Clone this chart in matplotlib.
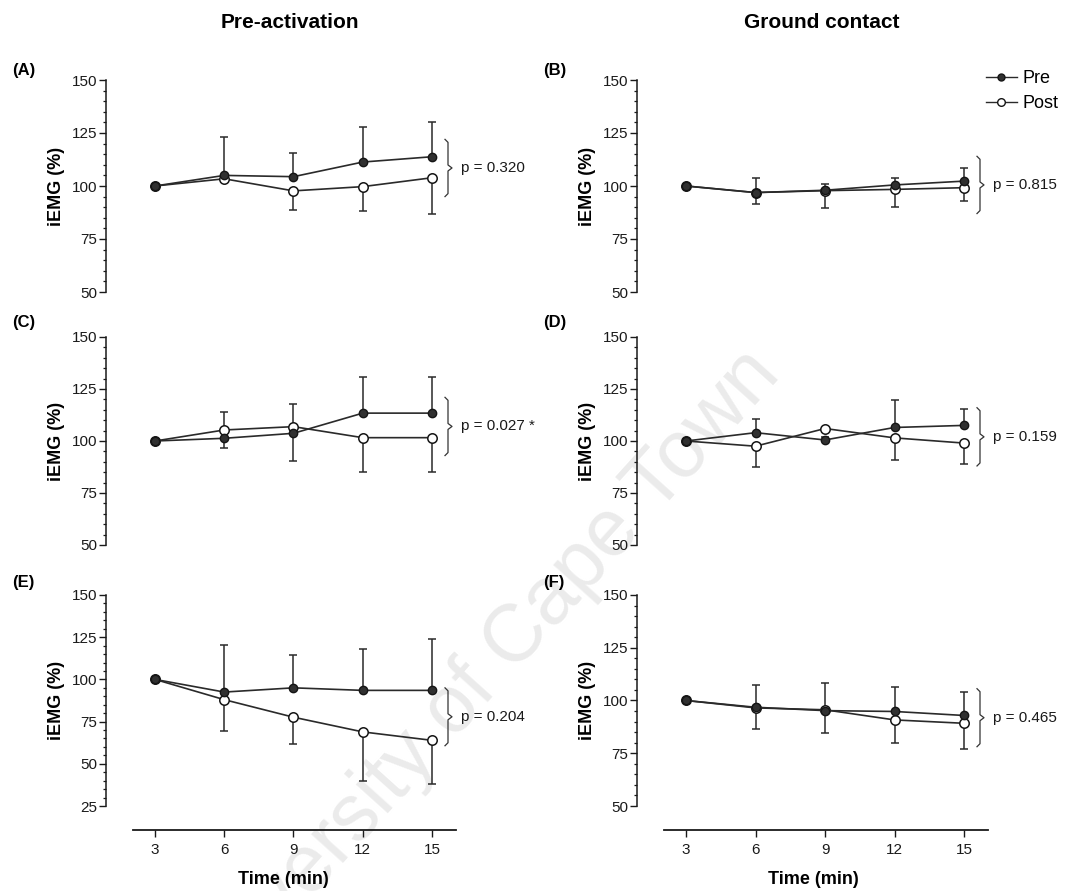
import matplotlib
matplotlib.use('Agg')
import matplotlib.pyplot as plt
from matplotlib.ticker import MultipleLocator
from matplotlib.lines import Line2D

plt.rcParams['font.family'] = ['Liberation Sans', 'DejaVu Sans']

# ---------------- data ----------------
time_min = [3, 6, 9, 12, 15]

a_pre = [100, 105.0, 104.4, 111.3, 113.8]
a_pre_sd = [0, 18.0, 11.0, 16.4, 16.5]
a_post = [100, 103.4, 97.7, 99.7, 103.9]
a_post_sd = [0, 1.5, 9.0, 11.4, 17.0]

b_pre = [100, 96.9, 98.0, 100.5, 102.3]
b_pre_sd = [0, 7.0, 2.8, 3.5, 6.0]
b_post = [100, 96.9, 97.8, 98.4, 99.2]
b_post_sd = [0, 5.3, 8.4, 8.1, 6.5]

c_pre = [100, 101.3, 103.7, 113.4, 113.4]
c_pre_sd = [0, 12.6, 14.0, 17.6, 17.6]
c_post = [100, 105.3, 106.9, 101.6, 101.6]
c_post_sd = [0, 8.5, 16.6, 16.7, 16.7]

d_pre = [100, 104.0, 100.5, 106.5, 107.5]
d_pre_sd = [0, 6.5, 1.5, 13.0, 8.0]
d_post = [100, 97.5, 106.0, 101.5, 99.0]
d_post_sd = [0, 10.0, 1.5, 10.5, 10.0]

e_pre = [100, 92.5, 95.0, 93.5, 93.5]
e_pre_sd = [0, 28.0, 19.3, 24.4, 30.7]
e_post = [100, 88.0, 77.6, 68.9, 63.9]
e_post_sd = [0, 18.4, 15.9, 29.0, 26.0]

f_pre = [100, 96.8, 95.2, 94.8, 92.9]
f_pre_sd = [0, 10.7, 13.1, 11.5, 10.9]
f_post = [100, 96.5, 95.6, 90.8, 89.2]
f_post_sd = [0, 10.0, 11.0, 11.0, 12.2]

panel_letters = ['(A)', '(B)', '(C)', '(D)', '(E)', '(F)']
p_texts = ['p = 0.320', 'p = 0.815', 'p = 0.027 *', 'p = 0.159', 'p = 0.204', 'p = 0.465']
bracket_top = [122, 114, 121, 116, 95, 105.6]
bracket_bottom = [95, 87, 93, 88, 60.7, 78.1]
y_lows = [50, 50, 50, 50, 25, 50]
col_titles = ['Pre-activation', 'Ground contact']
series_names = ['Pre', 'Post']
y_label = 'iEMG (%)'
x_label = 'Time (min)'
watermark = 'University of Cape Town'

pre_list = [a_pre, b_pre, c_pre, d_pre, e_pre, f_pre]
pre_sd_list = [a_pre_sd, b_pre_sd, c_pre_sd, d_pre_sd, e_pre_sd, f_pre_sd]
post_list = [a_post, b_post, c_post, d_post, e_post, f_post]
post_sd_list = [a_post_sd, b_post_sd, c_post_sd, d_post_sd, e_post_sd, f_post_sd]

# ---------------- layout ----------------
W, H = 1069, 891
fig = plt.figure(figsize=(W / 100, H / 100), dpi=100)

def fx(px):
    return px / W

def fy(py):
    return 1 - py / H

cols = [dict(left=106, right=460, x3=155, x15=432),
        dict(left=637, right=990, x3=686, x15=964)]
rows = [dict(top=80, bottom=292), dict(top=337, bottom=545), dict(top=595, bottom=806)]
label_y = [71, 323, 583]

LINE = '#2a2a2a'
for i in range(6):
    r, c = divmod(i, 2)
    col, row = cols[c], rows[r]
    ax = fig.add_axes([fx(col['left']), fy(row['bottom']),
                       (col['right'] - col['left']) / W, (row['bottom'] - row['top']) / H])
    ax.patch.set_alpha(0)
    ppu = (col['x15'] - col['x3']) / 12.0
    xl = 3 - (col['x3'] - col['left']) / ppu
    xr = 15 + (col['right'] - col['x15']) / ppu
    ax.set_xlim(xl, xr)
    ylo = y_lows[i]
    ax.set_ylim(ylo, 150)

    ax.errorbar(time_min, pre_list[i], yerr=[[0] * 5, pre_sd_list[i]], fmt='none',
                ecolor=LINE, elinewidth=1.1, capsize=3.2, capthick=1.1, zorder=2)
    ax.errorbar(time_min, post_list[i], yerr=[post_sd_list[i], [0] * 5], fmt='none',
                ecolor=LINE, elinewidth=1.1, capsize=3.2, capthick=1.1, zorder=2)
    ax.plot(time_min, pre_list[i], '-', color=LINE, lw=1.2, marker='o', ms=6,
            mfc='#303030', mec='#151515', mew=1.0, zorder=4, clip_on=False)
    ax.plot(time_min, post_list[i], '-', color=LINE, lw=1.2, marker='o', ms=6.8,
            mfc='white', mec='#151515', mew=1.1, zorder=3, clip_on=False)

    for s in ['top', 'right']:
        ax.spines[s].set_visible(False)
    ax.spines['left'].set_color('#1a1a1a')
    ax.spines['left'].set_linewidth(1.1)
    ax.spines['left'].set_bounds(ylo, 150)
    ax.yaxis.set_major_locator(MultipleLocator(25))
    ax.yaxis.set_minor_locator(MultipleLocator(5))
    ax.tick_params(axis='y', which='major', direction='out', length=5, width=1.0,
                   labelsize=11, pad=1.5, colors='#1a1a1a')
    ax.tick_params(axis='y', which='minor', direction='out', length=2.5, width=0.9,
                   colors='#1a1a1a')
    axw = col['right'] - col['left']
    ax.set_ylabel(y_label, fontsize=13, fontweight='bold')
    ax.yaxis.set_label_coords(-41.0 / axw, 0.5)

    if r < 2:
        ax.spines['bottom'].set_visible(False)
        ax.set_xticks([])
    else:
        ax.spines['bottom'].set_position(('outward', 17.3))
        ax.spines['bottom'].set_bounds(2.05, 16.05)
        ax.spines['bottom'].set_color('#1a1a1a')
        ax.spines['bottom'].set_linewidth(1.3)
        ax.set_xticks(time_min)
        ax.set_xticklabels([str(t) for t in time_min])
        ax.tick_params(axis='x', direction='out', length=5, width=1.0, labelsize=11,
                       pad=4.5, colors='#1a1a1a')
        ax.set_xlabel(x_label, fontsize=13, fontweight='bold', labelpad=10)

    # brace
    bx = 15 + 16.0 / ppu
    hook = 3.0 / ppu
    tip = 4.0 / ppu
    yt, yb = bracket_top[i], bracket_bottom[i]
    ym = (yt + yb) / 2.0
    ppy = (row['bottom'] - row['top']) / (150.0 - ylo)
    dy = 3.0 / ppy
    bxs = [bx - hook, bx, bx, bx + tip, bx, bx, bx - hook]
    bys = [yt, yt - dy, ym + dy, ym, ym - dy, yb + dy, yb]
    ax.plot(bxs, bys, color='#333333', lw=0.9, clip_on=False)
    ax.text(bx + 13.0 / ppu, ym, p_texts[i], fontsize=11, va='center', ha='left',
            color='#1a1a1a')

    fig.text(fx(12 if c == 0 else 543), fy(label_y[r]), panel_letters[i], fontsize=12,
             fontweight='bold', ha='left', va='center')

    if i == 1:
        h_pre = Line2D([], [], color=LINE, lw=1.0, marker='o', ms=5, mfc='#303030', mec='#151515')
        h_post = Line2D([], [], color=LINE, lw=1.0, marker='o', ms=5.5, mfc='white', mec='#151515')
        fig.legend([h_pre, h_post], series_names, loc='upper left',
                   bbox_to_anchor=(fx(986), fy(70)), frameon=False, fontsize=13,
                   handlelength=1.7, handletextpad=0.3, labelspacing=0.45,
                   borderaxespad=0, borderpad=0)

fig.text(fx(290), fy(22), col_titles[0], fontsize=15, fontweight='bold', ha='center', va='center')
fig.text(fx(822), fy(22), col_titles[1], fontsize=15, fontweight='bold', ha='center', va='center')

# faint diagonal watermark
fig.text(fx(477), fy(684), watermark, fontsize=58, color='#ebebeb',
         rotation=48, ha='center', va='center', zorder=-5)

fig.savefig('out.png', dpi=100)
